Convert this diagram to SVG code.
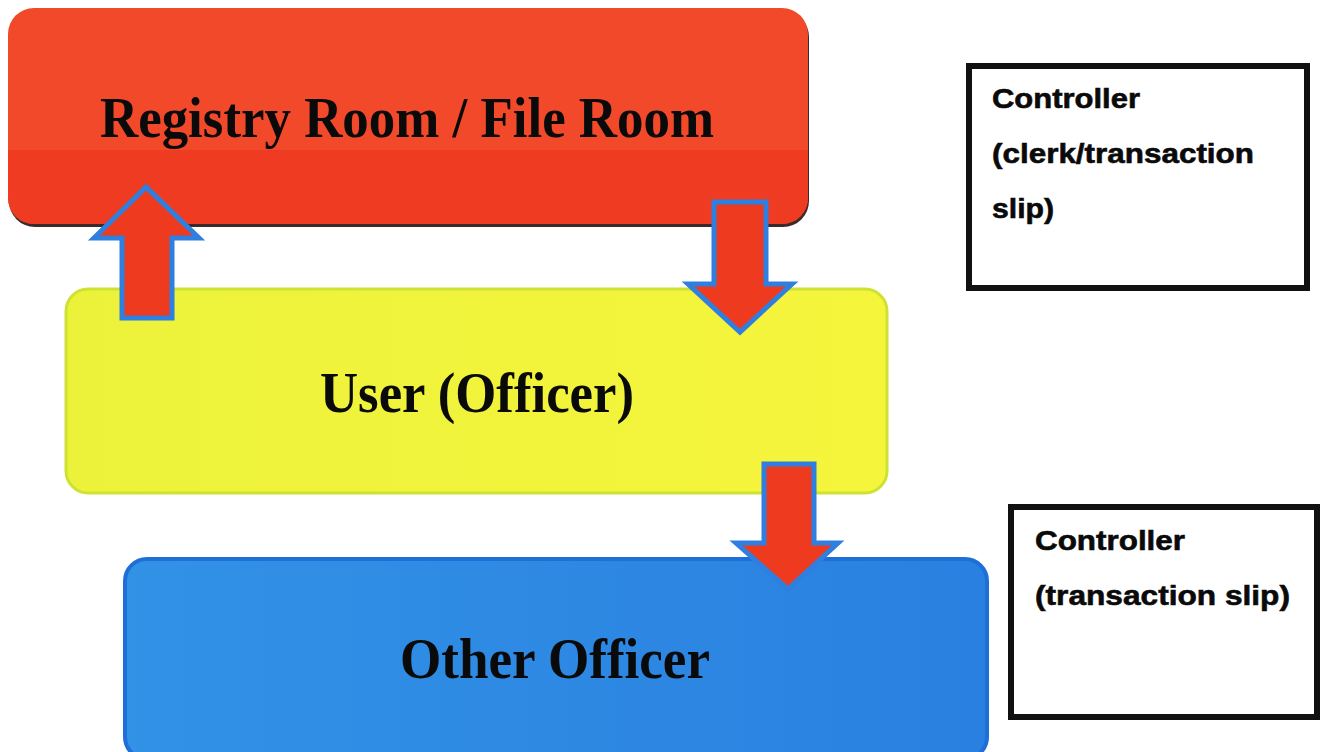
<svg xmlns="http://www.w3.org/2000/svg" width="1322" height="752" viewBox="0 0 1322 752">
  <style>
    .title { font-family: "Liberation Serif", "Times New Roman", serif; font-weight: bold; font-size: 57px; fill: #0a0a0a; }
    .note { font-family: "Liberation Sans", Arial, sans-serif; font-weight: bold; font-size: 28px; fill: #0a0a0a; stroke: #0a0a0a; stroke-width: 0.6; }
    .frame { fill: #ffffff; stroke: #111111; stroke-width: 6; }
    .flow { fill: #ee3b1f; stroke: #2f7fe0; stroke-width: 5; stroke-linejoin: miter; }
  </style>
  <defs>
    <linearGradient id="gYellow" x1="0" y1="0" x2="1" y2="0">
      <stop offset="0" stop-color="#ecf23a"/>
      <stop offset="1" stop-color="#f5f53c"/>
    </linearGradient>
    <linearGradient id="gBlue" x1="0" y1="0" x2="1" y2="0">
      <stop offset="0" stop-color="#3192e6"/>
      <stop offset="1" stop-color="#2a80e0"/>
    </linearGradient>
    <clipPath id="clipRed">
      <rect x="8" y="8" width="800" height="216" rx="26"/>
    </clipPath>
  </defs>

  <rect width="1322" height="752" fill="#ffffff"/>

  <!-- Registry Room / File Room -->
  <g id="registry">
    <rect x="9" y="11" width="800" height="216" rx="26" fill="#3a2a2a"/>
    <g clip-path="url(#clipRed)">
      <rect x="8" y="8" width="800" height="216" fill="#f3492b"/>
      <rect x="8" y="150" width="800" height="74" fill="#ee3b22"/>
    </g>
    <text class="title" x="407" y="137" text-anchor="middle" textLength="614" lengthAdjust="spacingAndGlyphs">Registry Room / File Room</text>
  </g>

  <!-- User (Officer) -->
  <g id="user">
    <rect x="66" y="289" width="821" height="204" rx="22" fill="url(#gYellow)" stroke="#cde233" stroke-width="3"/>
    <text class="title" x="477" y="412" text-anchor="middle" textLength="314" lengthAdjust="spacingAndGlyphs">User (Officer)</text>
  </g>

  <!-- Other Officer -->
  <g id="other">
    <rect x="125" y="559" width="862" height="200" rx="22" fill="url(#gBlue)" stroke="#1f6fd8" stroke-width="4"/>
    <text class="title" x="555" y="678" text-anchor="middle" textLength="310" lengthAdjust="spacingAndGlyphs">Other Officer</text>
  </g>

  <!-- Controller (clerk/transaction slip) -->
  <g id="controller1">
    <rect class="frame" x="969" y="66" width="338" height="222"/>
    <text class="note" x="992" y="108" textLength="148" lengthAdjust="spacingAndGlyphs">Controller</text>
    <text class="note" x="992" y="163" textLength="262" lengthAdjust="spacingAndGlyphs">(clerk/transaction</text>
    <text class="note" x="992" y="218" textLength="62" lengthAdjust="spacingAndGlyphs">slip)</text>
  </g>

  <!-- Controller (transaction slip) -->
  <g id="controller2">
    <rect class="frame" x="1011" y="507" width="306" height="210"/>
    <text class="note" x="1035" y="550" textLength="150" lengthAdjust="spacingAndGlyphs">Controller</text>
    <text class="note" x="1035" y="605" textLength="255" lengthAdjust="spacingAndGlyphs">(transaction slip)</text>
  </g>

  <!-- Block arrows between the rooms -->
  <g id="connectors">
    <polygon class="flow" points="122,318 172,318 172,238 199,238 146,187 94,238 122,238"/>
    <polygon class="flow" points="714,202 766,202 766,284 792,284 740,332 688,284 714,284"/>
    <polygon class="flow" points="764,464 814,464 814,543 838,543 788,589 736,543 764,543"/>
  </g>
</svg>
